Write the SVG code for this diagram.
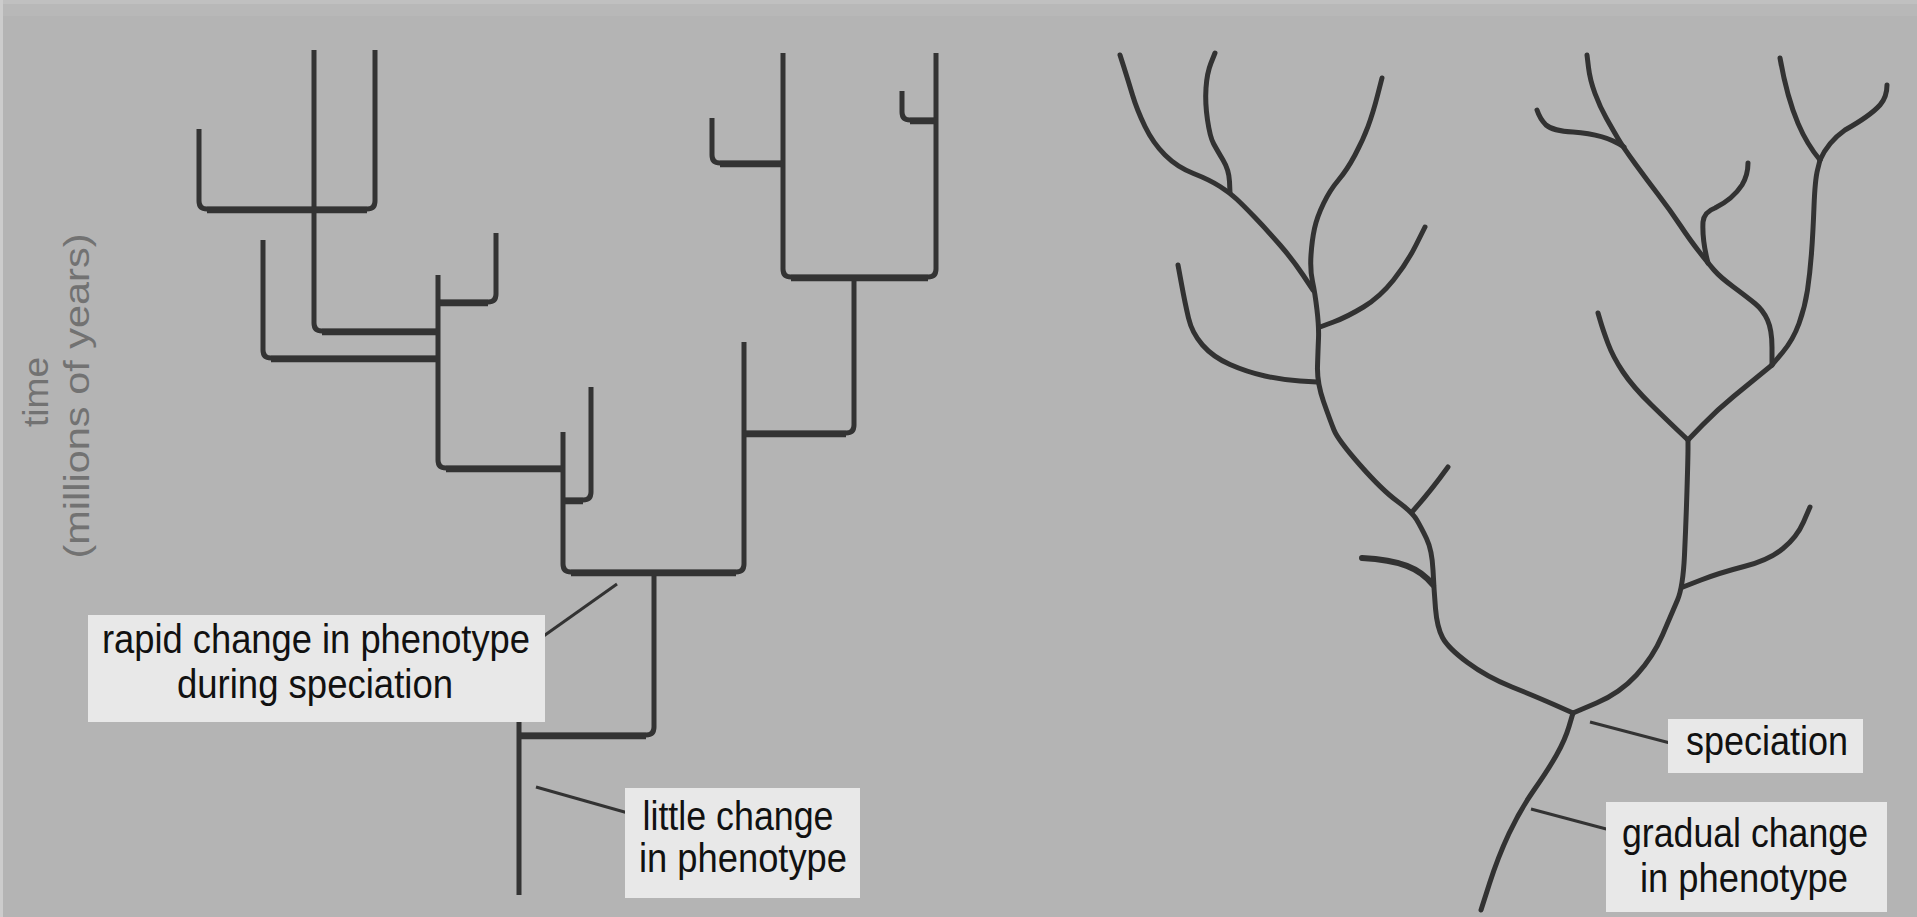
<svg xmlns="http://www.w3.org/2000/svg" width="1917" height="917" viewBox="0 0 1917 917">
  <style>
    .bg { fill: #b4b4b4; }
    .branch { fill: none; stroke: #333; stroke-width: 5; stroke-linecap: butt; stroke-linejoin: round; }
    .bar { fill: none; stroke: #333; stroke-width: 6.5; stroke-linecap: butt; }
    .twig { fill: none; stroke: #323232; stroke-width: 5; stroke-linecap: round; stroke-linejoin: round; }
    .leader { fill: none; stroke: #333; stroke-width: 3; }
    .box { fill: #e8e8e8; }
    .label { font-family: "Liberation Sans", Arial, sans-serif; font-size: 40px; fill: #111; text-anchor: middle; }
    .axis { font-family: "Liberation Sans", Arial, sans-serif; font-size: 35px; fill: #727272; text-anchor: middle; }
  </style>

  <!-- backdrop -->
  <rect class="bg" x="0" y="0" width="1917" height="917"/>
  <rect x="0" y="0" width="1917" height="4" fill="#c0c0c0"/>
  <rect x="0" y="4" width="1917" height="12" fill="#b8b8b8"/>
  <rect x="0" y="0" width="3" height="917" fill="#cccccc"/>

  <!-- vertical axis label -->
  <g id="axis-label">
    <text class="axis" transform="translate(48,392) rotate(-90)" x="0" y="0" textLength="70" lengthAdjust="spacingAndGlyphs">time</text>
    <text class="axis" transform="translate(89,396) rotate(-90)" x="0" y="0" textLength="325" lengthAdjust="spacingAndGlyphs">(millions of years)</text>
  </g>

  <!-- punctuated model: square-cornered lineages -->
  <g id="tree-punctuated">
    <path class="branch" d="M314,50 V323 Q314,331 322,331 H438"/>
    <path class="branch" d="M375,50 V201 Q375,209 367,209 H207 Q199,209 199,201 V129"/>
    <path class="branch" d="M263,240 V350 Q263,358 271,358 H438"/>
    <path class="branch" d="M496,233 V294 Q496,302 488,302 H438"/>
    <path class="branch" d="M438,275 V460 Q438,468 446,468 H563"/>
    <path class="branch" d="M591,387 V492 Q591,500 583,500 H563"/>
    <path class="branch" d="M563,432 V564 Q563,572 571,572 H736 Q744,572 744,564 V342"/>
    <path class="branch" d="M654,572 V727 Q654,735 646,735 H520"/>
    <path class="branch" d="M519,702 V895"/>
    <path class="branch" d="M783,53 V269 Q783,277 791,277 H928 Q936,277 936,269 V53"/>
    <path class="branch" d="M712,118 V155 Q712,163 720,163 H783"/>
    <path class="branch" d="M902,91 V112 Q902,120 910,120 H936"/>
    <path class="branch" d="M854,277 V425 Q854,433 846,433 H744"/>
    <!-- heavier horizontal bars -->
    <path class="bar" d="M322,332 H438 M207,210 H367 M271,359 H438 M438,303 H488 M446,469 H563 M571,573 H736 M520,736 H646 M791,278 H928 M720,164 H783 M910,121 H936 M744,434 H846 M565,501 H583"/>
  </g>

  <!-- gradual model: curved lineages -->
  <g id="tree-gradual">
    <path class="twig" d="M1481,910 L1489.5,883.5 Q1498,857 1509,833.5 Q1520,810 1534,790 Q1548,770 1556.5,755 Q1565,740 1569,726.5 L1573,713"/>
    <path class="twig" d="M1573,713 L1555,705 Q1537,697 1512,687 Q1487,677 1467.5,662.5 Q1448,648 1442.5,637.5 Q1437,627 1435.5,608.5 Q1434,590 1433,570 Q1432,550 1426.5,538.5 Q1421,527 1416.5,519.5 Q1412,512 1397,501 Q1382,490 1360,465 Q1338,440 1334,430 Q1330,420 1323.5,401.5 Q1317,383 1317.5,366.5 Q1318,350 1318.5,338.5 Q1319,327 1317,310 Q1315,293 1312.5,281.5 Q1310,270 1311,255 Q1312,240 1314.5,228.5 Q1317,217 1323.5,203.5 Q1330,190 1338.5,180 Q1347,170 1355,155 Q1363,140 1368,126.5 Q1373,113 1377.5,95.5 L1382,78"/>
    <path class="twig" d="M1313,290 L1303,275 Q1293,260 1280,245 Q1267,230 1255,217.5 Q1243,205 1236.5,199 Q1230,193 1220,186.5 Q1210,180 1193.5,173.5 Q1177,167 1165,155 Q1153,143 1145,126.5 Q1137,110 1132.5,95 Q1128,80 1124,67.5 L1120,55"/>
    <path class="twig" d="M1230,193 L1229.5,181.5 Q1229,170 1223,160 Q1217,150 1213.5,143.5 Q1210,137 1207.5,120 Q1205,103 1206,88 Q1207,73 1211,63 L1215,53"/>
    <path class="twig" d="M1320,327 L1333.5,322 Q1347,317 1363.5,307 Q1380,297 1393.5,280 Q1407,263 1416,245 L1425,227"/>
    <path class="twig" d="M1317,382 L1300,381 Q1283,380 1265,376 Q1247,372 1230,364.5 Q1213,357 1202.5,345 Q1192,333 1188.5,318 Q1185,303 1181.5,284 L1178,265"/>
    <path class="twig" d="M1412,512 Q1430,492 1448,467"/>
    <path class="twig" style="stroke-width:6" d="M1433,585 C1420,568 1400,560 1362,558"/>
    <path class="twig" d="M1573,713 L1596.5,703 Q1620,693 1636.5,675 Q1653,657 1662.5,635 Q1672,613 1677.5,600 Q1683,587 1684.5,555 Q1686,523 1687,490 Q1688,457 1688,448.5 L1688,440"/>
    <path class="twig" d="M1683,587 L1701,580 Q1719,573 1744,566.5 Q1769,560 1783,548.5 Q1797,537 1803.5,522 L1810,507"/>
    <path class="twig" d="M1688,440 L1679,431.5 Q1670,423 1651.5,405 Q1633,387 1623,372 Q1613,357 1608,343.5 Q1603,330 1600.5,321.5 L1598,313"/>
    <path class="twig" d="M1688,440 L1702.5,425 Q1717,410 1733.5,396.5 Q1750,383 1761,374 L1772,365"/>
    <path class="twig" d="M1772,365 L1772,347.5 Q1772,330 1767.5,320 Q1763,310 1755,303.5 Q1747,297 1733.5,287 Q1720,277 1714,270 Q1708,263 1699,251.5 Q1690,240 1680,225 Q1670,210 1658.5,195 Q1647,180 1635,163.5 Q1623,147 1618,138.5 Q1613,130 1606.5,118.5 Q1600,107 1595,93.5 Q1590,80 1588.5,67.5 L1587,55"/>
    <path class="twig" d="M1624,147 Q1605,134 1573,132 Q1553,131 1546,125 Q1540,119 1537,110"/>
    <path class="twig" d="M1708,263 Q1702,240 1703,222 Q1704,212 1715,208 Q1733,199 1742,185 Q1748,175 1748,163"/>
    <path class="twig" d="M1772,365 L1782.5,352.5 Q1793,340 1799,323.5 Q1805,307 1807.5,290 Q1810,273 1811.5,253 Q1813,233 1814,206.5 Q1815,180 1817.5,170 L1820,160"/>
    <path class="twig" d="M1820,160 C1805,142 1790,115 1780,58"/>
    <path class="twig" d="M1820,160 Q1828,142 1845,130 Q1870,116 1880,105 Q1887,97 1887,85"/>
  </g>

  <!-- callout leader lines -->
  <g id="connectors">
    <path class="leader" d="M617,584 L538,640"/>
    <path class="leader" d="M536,787 L628,813"/>
    <path class="leader" d="M1590,722 L1670,743"/>
    <path class="leader" d="M1531,809 L1610,830"/>
  </g>

  <!-- callouts -->
  <g id="label-rapid">
    <rect class="box" x="88" y="615" width="457" height="107"/>
    <text class="label" x="316" y="653" textLength="428" lengthAdjust="spacingAndGlyphs">rapid change in phenotype</text>
    <text class="label" x="315" y="698" textLength="276" lengthAdjust="spacingAndGlyphs">during speciation</text>
  </g>
  <g id="label-little">
    <rect class="box" x="625" y="788" width="235" height="110"/>
    <text class="label" x="738" y="830" textLength="191" lengthAdjust="spacingAndGlyphs">little change</text>
    <text class="label" x="743" y="872" textLength="208" lengthAdjust="spacingAndGlyphs">in phenotype</text>
  </g>
  <g id="label-speciation">
    <rect class="box" x="1668" y="719" width="195" height="54"/>
    <text class="label" x="1767" y="755" textLength="162" lengthAdjust="spacingAndGlyphs">speciation</text>
  </g>
  <g id="label-gradual">
    <rect class="box" x="1606" y="802" width="281" height="110"/>
    <text class="label" x="1745" y="847" textLength="246" lengthAdjust="spacingAndGlyphs">gradual change</text>
    <text class="label" x="1744" y="892" textLength="208" lengthAdjust="spacingAndGlyphs">in phenotype</text>
  </g>
</svg>
